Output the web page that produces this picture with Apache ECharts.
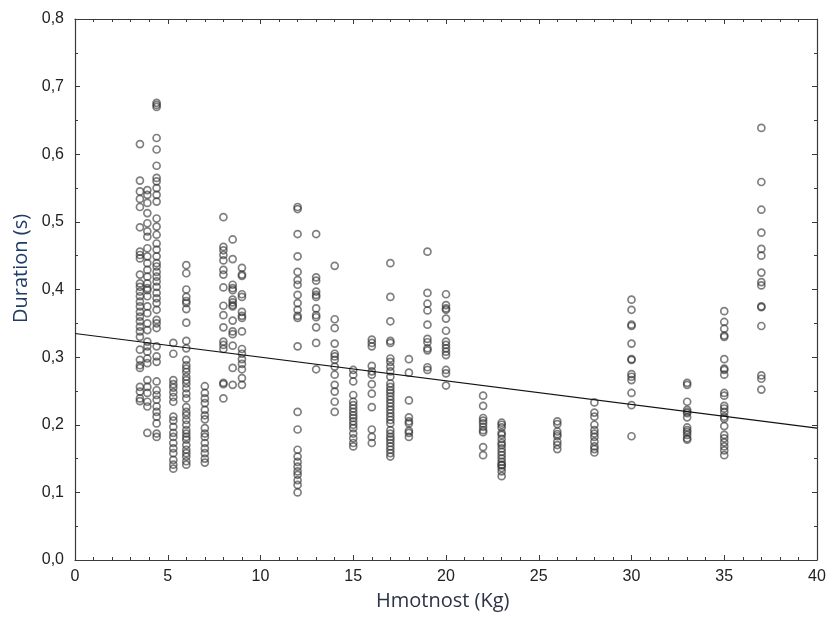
<!DOCTYPE html>
<html>
<head>
<meta charset="utf-8">
<script src="https://cdn.jsdelivr.net/npm/echarts@6/dist/echarts.min.js"></script>
<style>html,body{margin:0;padding:0;background:#fff}#c{width:830px;height:619px}</style>
</head>
<body>
<div id="c"></div>
<script>
// Weight (kg) columns and the durations (s) observed at each
const w35 = [0.615,0.561,0.545,0.534,0.522,0.492,0.456,0.451,0.446,0.422,0.409,0.404,0.397,0.390,0.382,0.375,0.367,0.360,0.353,0.345,0.338,0.330,0.311,0.296,0.288,0.284,0.256,0.249,0.239,0.235];
const w39 = [0.547,0.540,0.528,0.513,0.498,0.486,0.478,0.461,0.449,0.439,0.429,0.419,0.409,0.402,0.399,0.390,0.375,0.365,0.350,0.340,0.323,0.316,0.308,0.298,0.291,0.266,0.256,0.247,0.234,0.227,0.188];
const w44 = [0.676,0.673,0.670,0.624,0.607,0.583,0.565,0.560,0.550,0.540,0.530,0.505,0.493,0.481,0.468,0.459,0.449,0.439,0.434,0.426,0.419,0.412,0.404,0.395,0.387,0.380,0.370,0.355,0.350,0.343,0.316,0.301,0.293,0.264,0.251,0.244,0.237,0.227,0.219,0.212,0.202,0.187,0.182];
const w53 = [0.321,0.305,0.266,0.260,0.255,0.248,0.241,0.234,0.212,0.206,0.197,0.188,0.182,0.173,0.165,0.158,0.148,0.141,0.135];
const w6 = [0.436,0.424,0.400,0.389,0.383,0.380,0.371,0.351,0.324,0.313,0.296,0.288,0.283,0.278,0.271,0.266,0.261,0.254,0.246,0.239,0.226,0.219,0.214,0.207,0.200,0.192,0.187,0.182,0.178,0.170,0.163,0.158,0.153,0.146,0.141];
const w7 = [0.257,0.247,0.239,0.232,0.222,0.214,0.208,0.195,0.187,0.182,0.173,0.165,0.158,0.150,0.144];
const w8 = [0.507,0.463,0.458,0.451,0.443,0.429,0.422,0.403,0.376,0.362,0.344,0.323,0.318,0.312,0.262,0.260,0.239];
const w85 = [0.474,0.445,0.407,0.402,0.399,0.385,0.381,0.377,0.375,0.354,0.338,0.334,0.317,0.284,0.259];
const w9 = [0.432,0.422,0.420,0.393,0.389,0.367,0.361,0.358,0.338,0.312,0.305,0.297,0.290,0.282,0.269,0.259];
const w12 = [0.522,0.519,0.482,0.449,0.426,0.414,0.407,0.392,0.380,0.370,0.361,0.358,0.316,0.219,0.193,0.163,0.153,0.145,0.138,0.131,0.126,0.118,0.111,0.100];
const w13 = [0.482,0.418,0.413,0.397,0.392,0.389,0.372,0.362,0.359,0.344,0.321,0.282];
const w14 = [0.435,0.356,0.343,0.320,0.305,0.301,0.296,0.286,0.274,0.259,0.249,0.234,0.219];
const w15 = [0.281,0.274,0.264,0.244,0.234,0.229,0.224,0.219,0.214,0.210,0.205,0.200,0.195,0.187,0.180,0.173,0.168];
const w16 = [0.326,0.321,0.316,0.287,0.279,0.274,0.260,0.246,0.226,0.193,0.182,0.173];
const w17 = [0.439,0.389,0.353,0.324,0.321,0.298,0.293,0.286,0.279,0.271,0.261,0.256,0.251,0.247,0.242,0.237,0.232,0.227,0.222,0.217,0.212,0.207,0.202,0.192,0.187,0.182,0.178,0.173,0.168,0.163,0.158,0.153];
const w18 = [0.297,0.277,0.236,0.211,0.205,0.202,0.191,0.188,0.182];
const w19 = [0.456,0.395,0.379,0.369,0.348,0.327,0.322,0.313,0.310,0.285,0.281];
const w20 = [0.393,0.377,0.372,0.370,0.357,0.339,0.323,0.318,0.313,0.308,0.303,0.281,0.276,0.258];
const w22 = [0.243,0.228,0.210,0.206,0.202,0.197,0.192,0.189,0.167,0.155];
const w23 = [0.203,0.200,0.196,0.188,0.185,0.179,0.173,0.170,0.165,0.160,0.155,0.150,0.145,0.141,0.140,0.136,0.131,0.124];
const w26 = [0.205,0.201,0.190,0.186,0.183,0.175,0.170,0.164];
const w28 = [0.233,0.218,0.212,0.200,0.192,0.187,0.182,0.175,0.168,0.164,0.159];
const w30 = [0.385,0.370,0.348,0.346,0.320,0.297,0.296,0.275,0.271,0.266,0.247,0.229,0.183];
const w33 = [0.262,0.259,0.234,0.222,0.219,0.217,0.211,0.196,0.192,0.189,0.185,0.180,0.178];
const w35b = [0.368,0.352,0.342,0.332,0.330,0.297,0.283,0.281,0.274,0.247,0.243,0.228,0.224,0.219,0.212,0.209,0.198,0.185,0.180,0.174,0.168,0.162,0.155];
const w37 = [0.639,0.559,0.518,0.484,0.460,0.450,0.425,0.411,0.406,0.375,0.374,0.346,0.273,0.268,0.252];

const weights = [3.5,3.9,4.4,5.3,6,7,8,8.5,9,12,13,14,15,16,17,18,19,20,22,23,26,28,30,33,35,37];
const columns = [w35,w39,w44,w53,w6,w7,w8,w85,w9,w12,w13,w14,w15,w16,w17,w18,w19,w20,w22,w23,w26,w28,w30,w33,w35b,w37];

// Fitted regression line end points
const fitX = [0, 40];
const fitY = [0.335, 0.195];

const xTicks = [0,5,10,15,20,25,30,35,40];
const yTicks = [0.0,0.1,0.2,0.3,0.4,0.5,0.6,0.7,0.8];

const points = [];
weights.forEach((w, i) => columns[i].forEach(v => points.push([w, v])));

const chart = echarts.init(document.getElementById('c'));
const axisCol = '#3a3a3a';
const labelFont = "'Liberation Sans', sans-serif";
const common = {
  axisLine: {show: true, onZero: false, lineStyle: {color: axisCol, width: 1.2}},
  axisTick: {show: true, inside: true, length: 5, lineStyle: {color: axisCol}},
  minorTick: {show: true, length: 3, lineStyle: {color: axisCol}},
  splitLine: {show: false}
};
chart.setOption({
  animation: false,
  grid: {left: 75, right: 13, top: 19, bottom: 59},
  xAxis: [
    Object.assign({type: 'value', min: xTicks[0], max: xTicks[xTicks.length-1], interval: 5,
      axisLabel: {color: '#222', fontSize: 16, fontFamily: labelFont, margin: 9}}, common,
      {minorTick: Object.assign({splitNumber: 5}, common.minorTick)}),
    Object.assign({type: 'value', position: 'top', min: 0, max: 40, interval: 5, axisLabel: {show: false}}, common,
      {minorTick: Object.assign({splitNumber: 5}, common.minorTick)})
  ],
  yAxis: [
    Object.assign({type: 'value', min: yTicks[0], max: yTicks[yTicks.length-1], interval: 0.1,
      axisLabel: {color: '#222', fontSize: 16, fontFamily: labelFont, margin: 11,
        formatter: v => v.toFixed(1).replace('.', ',')}}, common,
      {minorTick: Object.assign({splitNumber: 2}, common.minorTick)}),
    Object.assign({type: 'value', position: 'right', min: 0, max: 0.8, interval: 0.1, axisLabel: {show: false}}, common,
      {minorTick: Object.assign({splitNumber: 2}, common.minorTick)})
  ],
  graphic: [
    {type: 'text', x: 376, y: 591, style: {text: 'Hmotnost (Kg)', fill: '#2b3445', font: "20px 'Open Sans', sans-serif"}},
    {type: 'text', x: 11, y: 323, rotation: Math.PI/2, style: {text: 'Duration (s)', fill: '#1f3b66', font: "20px 'Open Sans', sans-serif"}}
  ],
  series: [
    {type: 'scatter', data: points, symbol: 'circle', symbolSize: 7,
      itemStyle: {color: 'rgba(255,255,255,0)', borderColor: 'rgba(50,50,50,0.78)', borderWidth: 1.7}},
    {type: 'line', data: fitX.map((x, i) => [x, fitY[i]]), symbol: 'none',
      lineStyle: {color: '#111', width: 1.1}, z: 3}
  ]
});
</script>
</body>
</html>
